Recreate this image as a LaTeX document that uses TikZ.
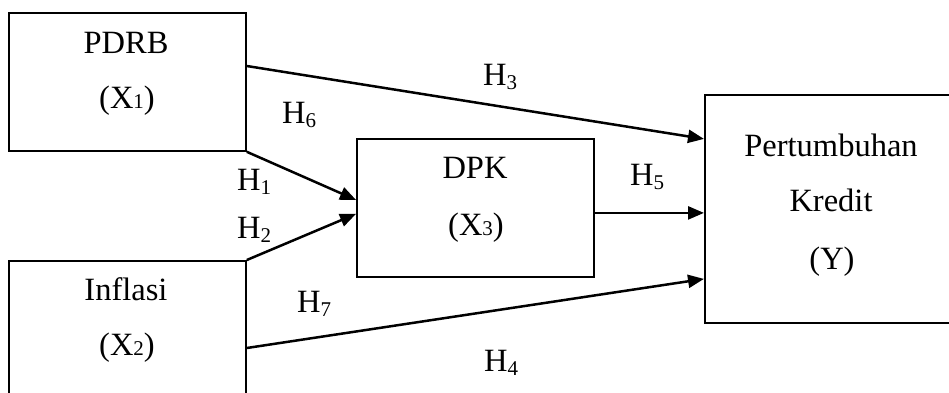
\documentclass[tikz,border=0pt]{standalone}
\usepackage{fontspec}
\setmainfont{Liberation Serif}
\usetikzlibrary{arrows.meta}

% hypothesis label with lowered index, variable label with small index
\newcommand{\hyp}[1]{H\raisebox{-4pt}{\fontsize{21}{21}\selectfont #1}}
\newcommand{\varsub}[1]{{\fontsize{21}{21}\selectfont #1}}

\begin{document}
\begin{tikzpicture}[x=1pt,y=-1pt,
  box/.style={draw, line width=1.8pt, rectangle, inner sep=0pt, anchor=north west},
  txt/.style={anchor=base, inner sep=0pt, font=\fontsize{32.5}{38}\selectfont},
  hlab/.style={anchor=base west, inner sep=0pt, font=\fontsize{32.5}{38}\selectfont},
  link/.style={line width=2.5pt, -{Triangle[length=16pt,width=13pt]}}]

\useasboundingbox (0,0) rectangle (949,392);
\clip (0,0) rectangle (949,392);

% variable boxes
\node[box, minimum width=237pt, minimum height=138pt] (pdrb) at (8,12) {};
\node[box, minimum width=237pt, minimum height=200pt] (infl) at (8,260) {};
\node[box, minimum width=237pt, minimum height=138pt] (dpk) at (356,138) {};
\node[box, minimum width=300pt, minimum height=228pt] (kred) at (704,94) {};

% box texts
\node[txt] (pdrbA) at (126,53) {PDRB};
\node[txt] (pdrbB) at (127,108) {(X\varsub{1})};
\node[txt] (inflA) at (126,300) {Inflasi};
\node[txt] (inflB) at (127,355) {(X\varsub{2})};
\node[txt] (dpkA) at (475,178) {DPK};
\node[txt] (dpkB) at (476,235) {(X\varsub{3})};
\node[txt] (kredA) at (831,156) {Pertumbuhan};
\node[txt] (kredB) at (831,211) {Kredit};
\node[txt] (kredC) at (832,269) {(Y)};

% paths
\draw[link] ([yshift=-54pt]pdrb.north east) -- ([yshift=70pt]kred.west);
\draw[link] (pdrb.south east) -- ([yshift=8pt]dpk.west);
\draw[link] (infl.north east) -- ([yshift=-6pt]dpk.west);
\draw[link] ([yshift=-5pt]dpk.east) -- ([yshift=-4pt]kred.west);
\draw[link] ([yshift=-88pt]infl.north east) -- ([yshift=-70pt]kred.west);

% hypothesis labels
\node[hlab] (h3) at (483,85) {\hyp{3}};
\begin{scope}
  \clip (270,95) rectangle (340,128);
  \node[hlab] (h6) at (282,123) {\hyp{6}};
\end{scope}
\node[hlab] (h1) at (237,190) {\hyp{1}};
\node[hlab] (h2) at (237,238) {\hyp{2}};
\node[hlab] (h5) at (630,185) {\hyp{5}};
\node[hlab] (h7) at (297,312) {\hyp{7}};
\node[hlab] (h4) at (484,371) {\hyp{4}};

\end{tikzpicture}
\end{document}
